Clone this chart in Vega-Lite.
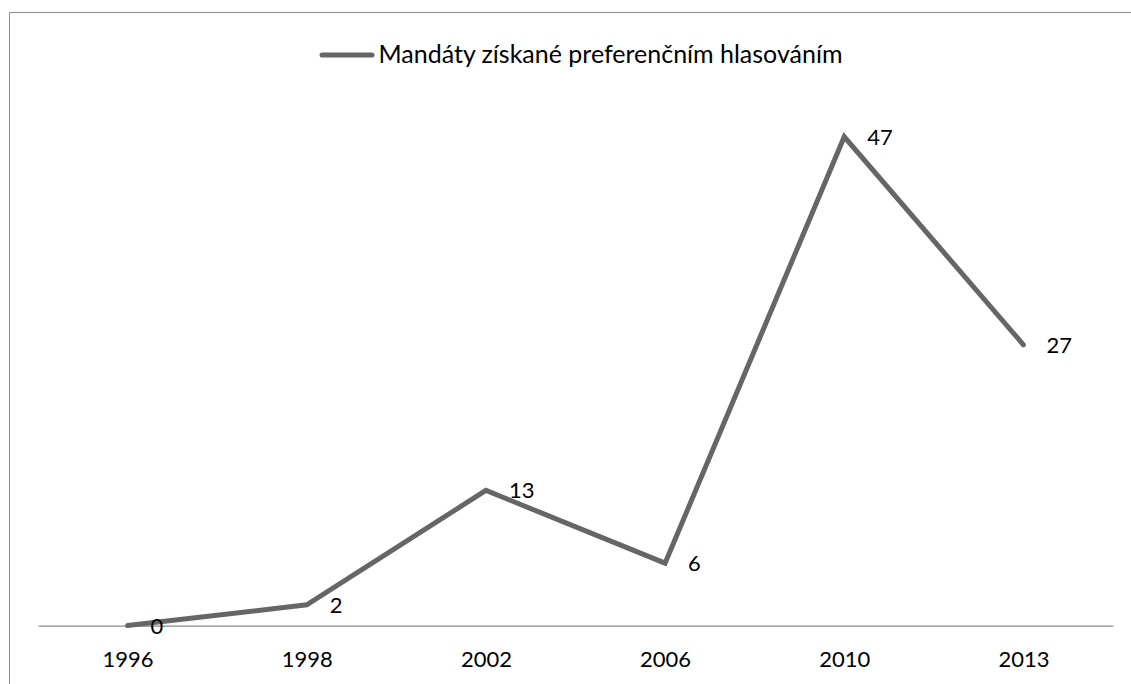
{
  "$schema": "https://vega.github.io/schema/vega-lite/v6.json",
  "autosize": {"type": "none"},
  "padding": {"left": 9, "top": 12, "right": 0, "bottom": 0},
  "width": 1200,
  "height": 707.2,
  "background": "white",
  "config": {"view": {"stroke": "#8c8c8c", "strokeWidth": 1}, "font": "Lato"},
  "data": {"values": [
    {"year": "1996", "seats": 0, "series": "Mandáty získané preferenčním hlasováním"},
    {"year": "1998", "seats": 2, "series": "Mandáty získané preferenčním hlasováním"},
    {"year": "2002", "seats": 13, "series": "Mandáty získané preferenčním hlasováním"},
    {"year": "2006", "seats": 6, "series": "Mandáty získané preferenčním hlasováním"},
    {"year": "2010", "seats": 47, "series": "Mandáty získané preferenčním hlasováním"},
    {"year": "2013", "seats": 27, "series": "Mandáty získané preferenčním hlasováním"}
  ]},
  "encoding": {
    "x": {
      "field": "year", "type": "ordinal",
      "scale": {"type": "point", "range": [29, 1104], "padding": 0.5},
      "axis": {"title": null, "orient": "bottom", "offset": -93.6, "ticks": false, "labelAngle": 0,
               "labelFont": "Lato", "labelFontSize": 22, "labelColor": "black", "labelPadding": 24,
               "domainColor": "#8a8a8a", "domainWidth": 1.3, "grid": false}
    },
    "y": {
      "field": "seats", "type": "quantitative",
      "scale": {"domain": [-9, 59], "nice": false, "zero": false},
      "axis": null
    }
  },
  "layer": [
    {
      "mark": {"type": "line", "strokeWidth": 5, "strokeCap": "round"},
      "encoding": {
        "color": {
          "field": "series", "type": "nominal",
          "scale": {"range": ["#666666"]},
          "legend": {
            "orient": "none", "legendX": 310.5, "legendY": 15.5, "title": null, "padding": 0,
            "symbolType": "stroke", "symbolSize": 2500, "symbolStrokeWidth": 5,
            "labelFont": "Lato", "labelFontSize": 25, "labelColor": "black", "labelOffset": 4,
            "labelLimit": 1000,
            "encode": {"symbols": {"update": {"strokeCap": {"value": "round"}}}}
          }
        }
      }
    },
    {
      "mark": {"type": "text", "align": "left", "baseline": "middle", "dx": 23, "dy": 1,
               "fontSize": 22, "font": "Lato", "color": "black"},
      "encoding": {"text": {"field": "seats", "type": "quantitative"}}
    }
  ]
}
